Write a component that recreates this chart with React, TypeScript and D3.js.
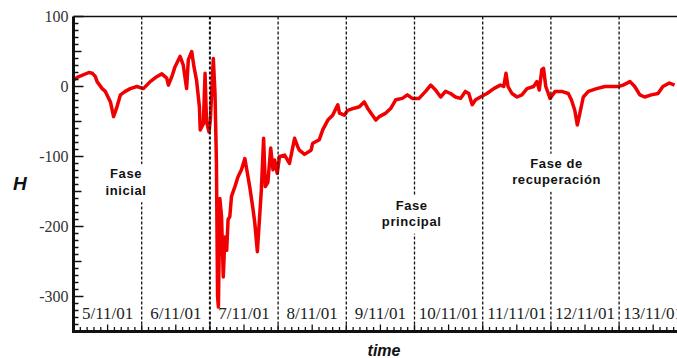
import React from "react";
import * as d3 from "d3";

// Storm of 5–13 Nov 2001: H component (nT) against hours since 5/11/01 00:00
const hours = [0, 1.3, 5.4, 6.6, 7.7, 8.3, 10.1, 11.2, 13.0, 14.1, 15.3, 16.5, 18.2, 20.0, 22.3, 24.6, 27.0, 29.3, 31.1, 32.8, 33.4, 34.6, 35.7, 37.5, 38.6, 39.8, 40.4, 41.6, 42.4, 43.3, 44.3, 44.6, 45.7, 46.3, 46.8, 47.7, 48.2, 49.2, 49.8, 50.3, 50.7, 51.0, 51.5, 52.1, 52.7, 53.3, 53.9, 54.4, 55.0, 55.6, 56.8, 57.9, 59.1, 60.3, 61.2, 62.0, 63.2, 63.8, 64.7, 65.5, 66.1, 66.9, 67.5, 68.4, 69.4, 70.2, 70.8, 71.7, 72.5, 74.3, 76.0, 77.8, 78.9, 79.5, 81.3, 83.6, 84.2, 86.5, 87.7, 89.5, 91.2, 93.0, 93.6, 95.3, 96.5, 98.8, 100.6, 102.3, 103.5, 105.2, 106.4, 107.6, 109.9, 111.7, 113.4, 115.7, 117.5, 119.2, 121.6, 123.9, 125.7, 127.4, 129.2, 130.9, 132.7, 134.4, 136.2, 137.9, 139.1, 140.3, 141.5, 143.2, 145.5, 147.9, 150.2, 151.4, 152.2, 152.9, 154.3, 156.1, 157.8, 159.6, 161.9, 163.1, 163.9, 164.8, 165.4, 166.2, 167.7, 169.5, 171.8, 174.1, 175.2, 176.4, 177.3, 178.2, 179.4, 181.2, 184.1, 187.0, 189.3, 191.7, 193.4, 195.8, 197.5, 199.3, 201.0, 203.3, 205.7, 207.4, 209.7, 211.5];

const hValues = [9, 13, 20, 19, 14, 7, -3, -7, -22, -43, -29, -12, -7, -3, 0, -3, 7, 14, 18, 12, 2, 14, 28, 43, 31, -3, 38, 50, 28, 9, -29, -62, -53, 19, -50, -65, -45, 40, -10, -110, -300, -315, -160, -186, -272, -215, -234, -190, -186, -157, -143, -129, -119, -103, -124, -143, -176, -195, -236, -186, -148, -74, -143, -137, -88, -119, -105, -124, -100, -98, -110, -74, -86, -91, -97, -91, -81, -76, -62, -48, -41, -26, -38, -41, -34, -31, -29, -22, -31, -41, -48, -43, -38, -31, -19, -17, -12, -17, -17, -7, 2, -5, -15, -7, -10, -15, -17, -7, -10, -26, -19, -15, -10, -3, 2, 0, 19, 0, -10, -15, -12, -3, 0, 7, -5, 24, 26, 0, -17, -7, -7, -10, -19, -34, -55, -38, -15, -7, -3, 0, 0, 0, 2, 7, 0, -12, -15, -12, -10, 0, 5, 2];

const dayLabels = ["5/11/01", "6/11/01", "7/11/01", "8/11/01", "9/11/01", "10/11/01", "11/11/01", "12/11/01", "13/11/01"];
const yTicks = [100, 0, -100, -200, -300];

const phaseNotes = [
  { lines: ["Fase", "inicial"], hour: 18.5, value: -131 },
  { lines: ["Fase", "principal"], hour: 119, value: -176 },
  { lines: ["Fase de", "recuperación"], hour: 170, value: -116 },
];

const W = 677;
const H = 358;
const left = 73.5;
const dayPx = 68.2;
const top = 16.5;
const bottom = 331.5;

export default function App() {
  const x = d3.scaleLinear().domain([0, 24 * 9]).range([left, left + 9 * dayPx]);
  const y = d3.scaleLinear().domain([-350, 100]).range([bottom, top]);

  const pts = hours.map((h, i) => [h, hValues[i]] as [number, number]);
  const line = d3
    .line<[number, number]>()
    .x((d) => x(d[0]))
    .y((d) => y(d[1]));

  const yMinor = d3.range(-350, 101, 10);
  const xMinor = d3.range(0, 24 * 9 + 0.01, 2.4);
  const dayStarts = d3.range(1, 9).map((d) => d * 24);

  return (
    <svg width={W} height={H} style={{ position: "absolute", left: 0, top: 0, background: "#fff" }}>
      <defs>
        <clipPath id="plot">
          <rect x={left} y={top} width={W - left} height={bottom - top} />
        </clipPath>
      </defs>

      {/* H trace */}
      <path
        d={line(pts) ?? ""}
        fill="none"
        stroke="#f00000"
        strokeWidth={3.5}
        strokeLinejoin="round"
        clipPath="url(#plot)"
      />

      {/* day separators */}
      {dayStarts.map((h, i) => (
        <line
          key={h}
          x1={x(h)}
          x2={x(h)}
          y1={top}
          y2={bottom}
          stroke="#111"
          strokeWidth={i === 1 ? 2 : 1.3}
          strokeDasharray="3,2"
        />
      ))}

      {/* phase annotations */}
      {phaseNotes.map((n) => {
        const cx = x(n.hour);
        const cy = y(n.value);
        const widest = d3.max(n.lines, (s) => s.length) ?? 0;
        const bw = widest * 7.4 + 6;
        return (
          <g key={n.lines.join(" ")}>
            <rect x={cx - bw / 2} y={cy - 14} width={bw} height={n.lines.length * 16 + 6} fill="#fff" />
            {n.lines.map((s, j) => (
              <text
                key={s}
                x={cx}
                y={cy + j * 16.5}
                textAnchor="middle"
                fontFamily="Liberation Sans, Arial, sans-serif"
                fontWeight="bold"
                fontSize={13}
                letterSpacing={0.6}
                fill="#111"
              >
                {s}
              </text>
            ))}
          </g>
        );
      })}

      {/* frame top */}
      <line x1={left} x2={W} y1={top} y2={top} stroke="#111" strokeWidth={1.5} />

      {/* left axis */}
      {yMinor.map((v) => {
        const len = v % 100 === 0 ? 10 : v % 50 === 0 ? 8 : 5;
        return <line key={v} x1={left} x2={left + len} y1={y(v)} y2={y(v)} stroke="#111" strokeWidth={1.5} />;
      })}
      <line x1={left} x2={left} y1={top} y2={bottom + 1.5} stroke="#111" strokeWidth={3} />
      {yTicks.map((v) => (
        <text
          key={v}
          x={left - 5}
          y={y(v)}
          dy="0.35em"
          textAnchor="end"
          fontFamily="Liberation Serif, Times New Roman, serif"
          fontSize={16}
          fill="#333"
        >
          {v}
        </text>
      ))}

      {/* bottom axis */}
      {xMinor.map((h, i) => {
        const len = i % 5 === 0 ? 7 : 4.5;
        return <line key={i} x1={x(h)} x2={x(h)} y1={bottom} y2={bottom - len} stroke="#111" strokeWidth={1.3} />;
      })}
      <line x1={left - 1.5} x2={W} y1={bottom} y2={bottom} stroke="#111" strokeWidth={3} />
      {dayLabels.map((s, i) => (
        <text
          key={s}
          x={x(i * 24 + 12)}
          y={319}
          textAnchor="middle"
          fontFamily="Liberation Serif, Times New Roman, serif"
          fontSize={17}
          fill="#222"
        >
          {s}
        </text>
      ))}

      {/* axis titles */}
      <text x={13} y={190} fontFamily="Liberation Sans, Arial, sans-serif" fontWeight="bold" fontStyle="italic" fontSize={19} fill="#111">
        H
      </text>
      <text x={384} y={356} textAnchor="middle" fontFamily="Liberation Sans, Arial, sans-serif" fontWeight="bold" fontStyle="italic" fontSize={16} fill="#111">
        time
      </text>
    </svg>
  );
}
